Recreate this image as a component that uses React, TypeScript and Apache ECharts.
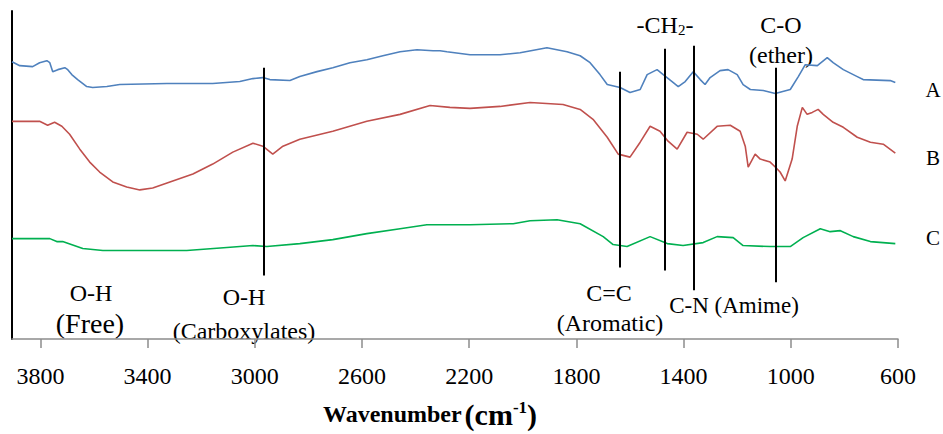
import React, { useEffect, useRef } from "react";
import * as echarts from "echarts";

// Wavenumber (cm-1) and transmittance (arbitrary units)
const waveA = [3906, 3877, 3829, 3803, 3776, 3765, 3754, 3735, 3709, 3698, 3683, 3661, 3627, 3605, 3552, 3504, 3328, 3157, 3056, 3007, 2970, 2944, 2869, 2832, 2768, 2709, 2645, 2582, 2522, 2458, 2395, 2335, 2309, 2283, 2197, 2085, 2010, 1910, 1835, 1786, 1749, 1712, 1685, 1637, 1600, 1562, 1536, 1499, 1476, 1443, 1420, 1394, 1364, 1338, 1320, 1301, 1264, 1234, 1200, 1178, 1151, 1103, 1058, 1002, 972, 946, 901, 864, 842, 804, 752, 730, 629, 610];
const valA = [279, 275, 274, 278, 280, 278, 269, 271, 273, 271, 266, 261, 254, 253, 254, 256, 257, 257, 259, 262, 263, 261, 260, 264, 269, 273, 278, 281, 285, 289, 291, 290, 290, 289, 286, 286, 288, 293, 289, 285, 278, 266, 256, 253, 248, 251, 266, 271, 266, 259, 254, 259, 269, 261, 256, 263, 270, 271, 266, 256, 251, 250, 247, 251, 264, 276, 275, 283, 278, 271, 264, 261, 260, 258];

const waveB = [3906, 3803, 3773, 3747, 3720, 3691, 3653, 3616, 3579, 3530, 3478, 3429, 3381, 3306, 3231, 3157, 3082, 3007, 2970, 2933, 2895, 2832, 2709, 2582, 2458, 2346, 2272, 2197, 2085, 1973, 1850, 1786, 1738, 1685, 1644, 1600, 1562, 1525, 1488, 1458, 1424, 1387, 1349, 1327, 1275, 1226, 1189, 1170, 1159, 1133, 1114, 1077, 1058, 1040, 1021, 995, 976, 957, 939, 920, 898, 879, 842, 804, 752, 703, 655, 610];
const valB = [219, 219, 215, 218, 214, 206, 191, 178, 168, 158, 153, 150, 152, 159, 166, 176, 188, 197, 194, 186, 194, 201, 209, 219, 226, 235, 233, 232, 234, 238, 236, 231, 221, 203, 186, 183, 198, 214, 209, 199, 191, 208, 206, 201, 214, 215, 209, 194, 173, 186, 181, 178, 173, 168, 159, 181, 214, 233, 226, 228, 231, 226, 218, 213, 203, 198, 196, 187];

const waveC = [3906, 3765, 3739, 3717, 3642, 3567, 3254, 3104, 3007, 2955, 2832, 2709, 2582, 2458, 2358, 2197, 2036, 1973, 1872, 1786, 1700, 1663, 1611, 1525, 1461, 1402, 1327, 1275, 1215, 1178, 1077, 1002, 954, 890, 853, 815, 767, 703, 610];
const valC = [101, 101, 98, 98, 91, 89, 89, 92, 94, 93, 96, 100, 106, 111, 115, 115, 116, 119, 120, 116, 103, 95, 93, 103, 96, 94, 97, 103, 102, 94, 93, 93, 102, 111, 108, 109, 103, 98, 96];

// Band marker lines
const markerWave = [2966, 1637, 1471, 1363, 1058];
const markerTop = [273, 269, 292, 295, 273];
const markerBottom = [64, 72, 69, 49, 57];

// Axis ticks
const tickValues = [3800, 3400, 3000, 2600, 2200, 1800, 1400, 1000, 600];

const seriesNames = ["A", "B", "C"];
const seriesColors = ["#4F81BD", "#C0504D", "#00B050"];

const SERIF = "Liberation Serif";

const zip = (w: number[], v: number[]) => w.map((x, i) => [x, v[i]]);

export default function App() {
  const ref = useRef<HTMLDivElement>(null);
  useEffect(() => {
    if (!ref.current) return;
    const chart = echarts.init(ref.current, undefined, { renderer: "svg" });
    const datasets = [zip(waveA, valA), zip(waveB, valB), zip(waveC, valC)];

    const txt = (text: string, x: number, y: number, size: number) => ({
      type: "text",
      x,
      y,
      silent: true,
      style: {
        text,
        fill: "#000",
        fontFamily: SERIF,
        fontSize: size,
        align: "center",
        verticalAlign: "middle",
      },
    });

    const option: any = {
      animation: false,
      textStyle: { fontFamily: SERIF },
      grid: { left: 12, right: 45, top: 11, bottom: 93, containLabel: false },
      xAxis: {
        type: "value",
        min: 600,
        max: 3906,
        inverse: true,
        name: "{w|Wavenumber} {p|(cm}{s|-1}{p|)}",
        nameLocation: "middle",
        nameGap: 60,
        nameTextStyle: {
          padding: [0, 50, 0, 0],
          fontFamily: SERIF,
          rich: {
            w: { fontFamily: SERIF, fontWeight: "bold", fontSize: 24, color: "#000" },
            p: { fontFamily: SERIF, fontWeight: "bold", fontSize: 30, color: "#000" },
            s: { fontFamily: SERIF, fontWeight: "bold", fontSize: 17, color: "#000", verticalAlign: "top", padding: [0, 0, 12, 0] },
          },
        },
        axisLine: { onZero: false, lineStyle: { color: "#8c8c8c", width: 1.5 } },
        axisTick: { show: true, customValues: tickValues, length: 9, lineStyle: { color: "#8c8c8c", width: 1.5 } },
        axisLabel: {
          customValues: tickValues,
          fontSize: 24,
          fontFamily: SERIF,
          color: "#000",
          margin: 25,
          formatter: (v: number) => String(v),
        },
        splitLine: { show: false },
      },
      yAxis: {
        type: "value",
        min: 0,
        max: 330,
        axisLine: { show: true, onZero: false, lineStyle: { color: "#000", width: 2 } },
        axisTick: { show: false },
        axisLabel: { show: false },
        splitLine: { show: false },
      },
      series: datasets.map((d, i) => ({
        name: seriesNames[i],
        type: "line",
        data: d,
        symbol: "none",
        showSymbol: false,
        silent: true,
        lineStyle: { color: seriesColors[i], width: 1.6 },
        itemStyle: { color: seriesColors[i] },
        z: 2,
        ...(i === 2
          ? {
              markLine: {
                silent: true,
                symbol: ["none", "none"],
                animation: false,
                label: { show: false },
                lineStyle: { color: "#000", width: 2, type: "solid" },
                z: 5,
                data: markerWave.map((w, k) => [
                  { coord: [w, markerTop[k]] },
                  { coord: [w, markerBottom[k]] },
                ]),
              },
            }
          : {}),
      })),
      graphic: [
        txt("O-H", 91, 293, 24),
        txt("(Free)", 90, 323, 28),
        txt("O-H", 244, 297, 24),
        txt("(Carboxylates)", 244, 331, 24),
        txt("C=C", 609, 293, 24),
        txt("(Aromatic)", 610, 323, 24),
        txt("C-N (Amime)", 734, 305, 23),
        {
          type: "text",
          x: 665,
          y: 25,
          silent: true,
          style: {
            text: "{a|-CH}{s|2}{a|-}",
            align: "center",
            verticalAlign: "middle",
            fontFamily: SERIF,
            rich: {
              a: { fontFamily: SERIF, fontSize: 24, fill: "#000", color: "#000" },
              s: { fontFamily: SERIF, fontSize: 15, fill: "#000", color: "#000", verticalAlign: "bottom", padding: [10, 0, 0, 0] },
            },
          },
        },
        txt("C-O", 781, 25, 24),
        txt("(ether)", 781, 55, 24),
        txt("A", 933, 90, 21),
        txt("B", 933, 158, 21),
        txt("C", 933, 238, 21),
      ],
    };
    chart.setOption(option);
    return () => chart.dispose();
  }, []);
  return (
    <div
      ref={ref}
      style={{ position: "fixed", left: 0, top: 0, width: 943, height: 434, background: "#fff" }}
    />
  );
}
